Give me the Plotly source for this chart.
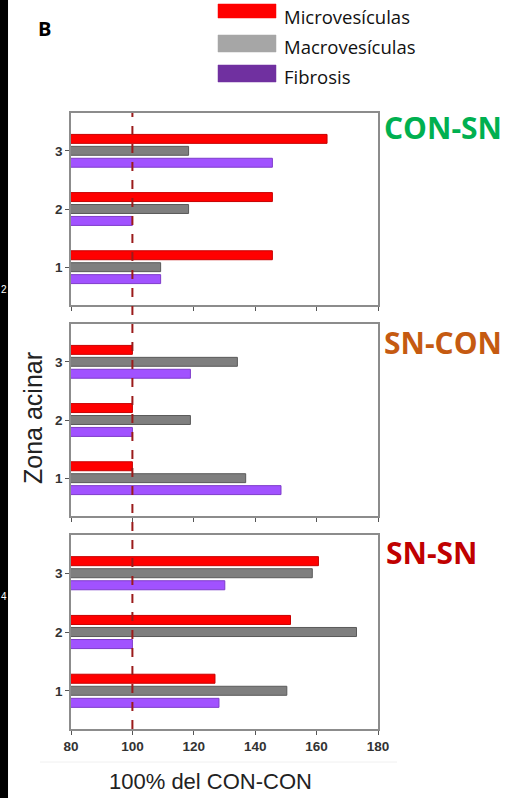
import plotly.graph_objects as go

# Zona acinar categories (1..3) and % of CON-CON for each group
zones = [1, 2, 3]
groups = ["CON-SN", "SN-CON", "SN-SN"]
group_colors = ["#00B050", "#C55A11", "#C00000"]

micro = {
    "CON-SN": [145.6, 145.6, 163.4],
    "SN-CON": [100.0, 100.0, 100.0],
    "SN-SN": [126.9, 151.5, 160.6],
}
macro = {
    "CON-SN": [109.2, 118.3, 118.3],
    "SN-CON": [136.9, 118.9, 134.2],
    "SN-SN": [150.3, 173.0, 158.6],
}
fibrosis = {
    "CON-SN": [109.2, 100.0, 145.6],
    "SN-CON": [148.4, 100.0, 118.9],
    "SN-SN": [128.2, 100.0, 130.1],
}

x_ticks = [80, 100, 120, 140, 160, 180]
reference_level = 100

W, H = 514, 798

def px(x):
    return x / W

def py(y):
    return 1 - y / H

# panel vertical extents in pixels (top, bottom)
panels = [(113, 305), (324, 516), (535, 729)]
x_dom = [px(71), px(378)]

series = [
    ("Fibrosis", fibrosis, "#A152FF", "#7E3CCB"),
    ("Macrovesículas", macro, "#7F7F7F", "#5A5A5A"),
    ("Microvesículas", micro, "#FF0000", "#C80000"),
]

fig = go.Figure()

for i, g in enumerate(groups):
    ax = "" if i == 0 else str(i + 1)
    for name, data, col, edge in series:
        fig.add_trace(go.Bar(
            y=zones, x=data[g], orientation="h", name=name,
            marker=dict(color=col, line=dict(color=edge, width=1)),
            xaxis="x" + ax, yaxis="y" + ax, showlegend=False,
        ))

tickfont = dict(family="Liberation Sans", size=13.5, color="#333333", weight="bold")

layout = dict(
    width=W, height=H,
    margin=dict(l=0, r=0, t=0, b=0, autoexpand=False),
    paper_bgcolor="white", plot_bgcolor="white",
    barmode="group", bargap=0.385, bargroupgap=0.25,
)

for i, (top, bot) in enumerate(panels):
    ax = "" if i == 0 else str(i + 1)
    layout["xaxis" + ax] = dict(
        domain=x_dom, range=[80, 180], anchor="y" + ax, automargin=False,
        tickvals=x_ticks, ticks="outside", ticklen=4, tickcolor="#555555",
        showticklabels=(i == 2), tickfont=tickfont,
        showline=True, mirror=True, linecolor="#8C8C8C", linewidth=1.5,
        showgrid=False, zeroline=False, fixedrange=True,
    )
    layout["yaxis" + ax] = dict(
        domain=[py(bot), py(top)], range=[0.35, 3.65], anchor="x" + ax, automargin=False,
        tickvals=zones, ticks="outside", ticklen=4, tickcolor="#555555",
        tickfont=tickfont,
        showline=True, mirror=True, linecolor="#8C8C8C", linewidth=1.5,
        showgrid=False, zeroline=False, fixedrange=True,
    )

fig.update_layout(**layout)

shapes = [
    # dark strip along the left edge
    dict(type="rect", xref="paper", yref="paper", x0=0, x1=0.0156, y0=0, y1=1,
         fillcolor="black", line=dict(width=0), layer="above"),
    # 100% reference across all panels
    dict(type="line", xref="x3", yref="paper", x0=reference_level, x1=reference_level,
         y0=py(729), y1=py(113), line=dict(color="#9B1B1B", width=2, dash="dash")),
    # faint rule under the chart block
    dict(type="line", xref="paper", yref="paper", x0=px(40), x1=px(397),
         y0=py(762), y1=py(762), line=dict(color="#F0F0F0", width=1)),
]

# legend swatches
legend_items = [
    ("Microvesículas", "#FF0000", 4, 18, 17),
    ("Macrovesículas", "#A6A6A6", 35, 52, 46),
    ("Fibrosis", "#7030A0", 65, 82, 76),
]
annotations = []
for label, col, y0, y1, yc in legend_items:
    shapes.append(dict(type="rect", xref="paper", yref="paper",
                       x0=px(218), x1=px(276), y0=py(y1), y1=py(y0),
                       fillcolor=col, line=dict(color=col, width=0.5)))
    annotations.append(dict(xref="paper", yref="paper", x=px(282), y=py(yc),
                            xanchor="left", yanchor="middle", showarrow=False,
                            text=label, font=dict(family="Open Sans", size=18.5, color="#111111")))

title_pos = [(382, 127), (382, 342), (384, 552)]
for g, c, (tx, ty) in zip(groups, group_colors, title_pos):
    annotations.append(dict(xref="paper", yref="paper", x=px(tx), y=py(ty),
                            xanchor="left", yanchor="middle", showarrow=False,
                            text=g, font=dict(family="Open Sans", size=30, color=c, weight="bold")))

annotations += [
    dict(xref="paper", yref="paper", x=px(44), y=py(28), xanchor="center", yanchor="middle",
         showarrow=False, text="B", font=dict(family="Open Sans", size=20, color="black", weight="bold")),
    dict(xref="paper", yref="paper", x=px(33), y=py(418), xanchor="center", yanchor="middle",
         showarrow=False, text="Zona acinar", textangle=-90,
         font=dict(family="Liberation Sans", size=25, color="#222222")),
    dict(xref="paper", yref="paper", x=px(210), y=py(781), xanchor="center", yanchor="middle",
         showarrow=False, text="100% del CON-CON",
         font=dict(family="Liberation Sans", size=22, color="#222222")),
    dict(xref="paper", yref="paper", x=px(4), y=py(290), xanchor="center", yanchor="middle",
         showarrow=False, text="2", font=dict(family="Liberation Sans", size=10, color="white")),
    dict(xref="paper", yref="paper", x=px(4), y=py(596), xanchor="center", yanchor="middle",
         showarrow=False, text="4", font=dict(family="Liberation Sans", size=10, color="white")),
]

fig.update_layout(shapes=shapes, annotations=annotations)

fig.write_html("out.html")
